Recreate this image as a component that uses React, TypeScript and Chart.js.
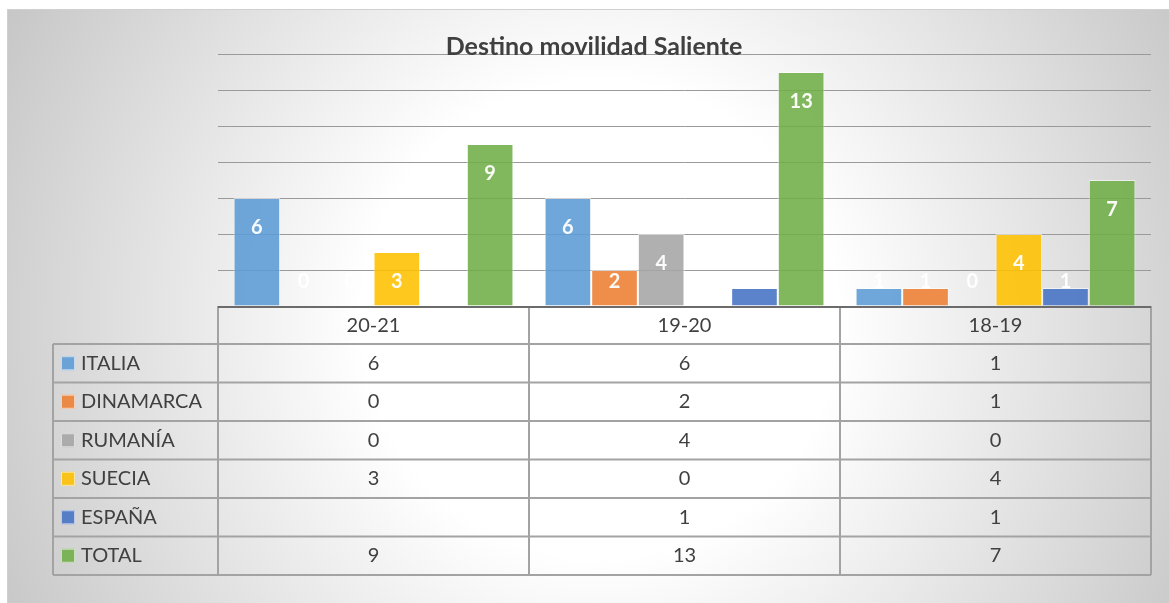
import React, { useEffect, useRef } from 'react';
import { Chart, registerables } from 'chart.js';

Chart.register(...registerables);

const titleText = 'Destino movilidad Saliente';
const categories = ['20-21', '19-20', '18-19'];
const seriesNames = ['ITALIA', 'DINAMARCA', 'RUMANÍA', 'SUECIA', 'ESPAÑA', 'TOTAL'];
const italia = [6, 6, 1];
const dinamarca = [0, 2, 1];
const rumania = [0, 4, 0];
const suecia = [3, 0, 4];
const espana: (number | null)[] = [null, 1, 1];
const total = [9, 13, 7];
const seriesValues = [italia, dinamarca, rumania, suecia, espana, total];
const seriesColors = ['#5B9BD5', '#ED7D31', '#A5A5A5', '#FFC000', '#4472C4', '#70AD47'];
const yMax = 14;
const yStep = 2;

const FONT = 'Lato, "Open Sans", sans-serif';

function hexToRgba(hex: string, a: number) {
  const n = parseInt(hex.slice(1), 16);
  return `rgba(${(n >> 16) & 255},${(n >> 8) & 255},${n & 255},${a})`;
}

const backgroundPlugin = {
  id: 'bgPlugin',
  beforeDraw(chart: any) {
    const ctx = chart.ctx;
    const W = chart.width;
    const H = chart.height;
    ctx.save();
    ctx.fillStyle = '#ffffff';
    ctx.fillRect(0, 0, W, H);
    const g = ctx.createRadialGradient(600, 320, 0, 600, 320, 720);
    g.addColorStop(0, '#ffffff');
    g.addColorStop(0.33, '#ffffff');
    g.addColorStop(1, '#c0c0c0');
    ctx.fillStyle = g;
    ctx.fillRect(7, 9, W - 7, H - 9);
    ctx.strokeStyle = '#d0d0d0';
    ctx.lineWidth = 1;
    ctx.beginPath();
    ctx.moveTo(7.5, H);
    ctx.lineTo(7.5, 9.5);
    ctx.lineTo(W, 9.5);
    ctx.stroke();
    ctx.restore();
  },
};

const labelsPlugin = {
  id: 'labelsPlugin',
  afterDatasetsDraw(chart: any) {
    const ctx = chart.ctx;
    ctx.save();
    ctx.font = `bold 20px ${FONT}`;
    ctx.fillStyle = 'rgba(255,255,255,0.95)';
    ctx.textAlign = 'center';
    ctx.textBaseline = 'middle';
    chart.data.datasets.forEach((ds: any, i: number) => {
      const meta = chart.getDatasetMeta(i);
      meta.data.forEach((el: any, j: number) => {
        const v = ds.data[j];
        if (v === null || v === undefined) return;
        const y = Math.min(el.y + 30, el.base - 24);
        ctx.fillText(String(v), el.x, y);
      });
    });
    ctx.restore();
  },
};

const titleTablePlugin = {
  id: 'titleTablePlugin',
  afterDraw(chart: any) {
    const ctx = chart.ctx;
    const area = chart.chartArea;
    const xs = chart.scales.x;
    ctx.save();
    ctx.font = `bold 25px ${FONT}`;
    ctx.fillStyle = '#404040';
    ctx.textAlign = 'center';
    ctx.textBaseline = 'middle';
    ctx.fillText(titleText, 594, 47);

    const n = categories.length;
    const catW = (area.right - area.left) / n;
    const colEdges = [53, area.left];
    for (let i = 0; i < n; i++) colEdges.push(area.left + catW * (i + 1));
    const headTop = area.bottom;
    const headBottom = 344;
    const rowH = 38.5;
    const rowTops: number[] = [];
    for (let r = 0; r <= seriesNames.length; r++) rowTops.push(headBottom + r * rowH);
    const bottom = rowTops[rowTops.length - 1];

    ctx.strokeStyle = '#a3a3a3';
    ctx.lineWidth = 2;
    ctx.beginPath();
    for (let c = 1; c < colEdges.length; c++) {
      ctx.moveTo(colEdges[c], headTop);
      ctx.lineTo(colEdges[c], bottom);
    }
    ctx.moveTo(colEdges[0], headBottom);
    ctx.lineTo(colEdges[0], bottom);
    rowTops.forEach((y) => {
      ctx.moveTo(colEdges[0], y);
      ctx.lineTo(colEdges[colEdges.length - 1], y);
    });
    ctx.stroke();

    ctx.strokeStyle = '#6b6b6b';
    ctx.lineWidth = 2;
    ctx.beginPath();
    ctx.moveTo(area.left, headTop + 1);
    ctx.lineTo(area.right, headTop + 1);
    ctx.stroke();

    ctx.font = `20px ${FONT}`;
    ctx.fillStyle = '#404040';
    ctx.textAlign = 'center';
    ctx.textBaseline = 'middle';
    categories.forEach((c, i) => {
      const cx = xs.getPixelForValue(i);
      ctx.fillText(c, cx, (headTop + headBottom) / 2 + 1);
    });
    seriesNames.forEach((name, r) => {
      const cy = rowTops[r] + rowH / 2;
      ctx.fillStyle = hexToRgba(seriesColors[r], 0.88);
      ctx.fillRect(61, cy - 7, 14, 14);
      ctx.strokeStyle = 'rgba(255,255,255,0.6)';
      ctx.lineWidth = 1;
      ctx.strokeRect(61.5, cy - 6.5, 13, 13);
      ctx.fillStyle = '#404040';
      ctx.textAlign = 'left';
      ctx.fillText(name, 81, cy);
      ctx.textAlign = 'center';
      seriesValues[r].forEach((v, i) => {
        if (v === null || v === undefined) return;
        ctx.fillText(String(v), xs.getPixelForValue(i), cy);
      });
    });
    ctx.restore();
  },
};

export default function App() {
  const canvasRef = useRef<HTMLCanvasElement | null>(null);

  useEffect(() => {
    const canvas = canvasRef.current;
    if (!canvas) return;
    const chart = new Chart(canvas, {
      type: 'bar',
      data: {
        labels: categories,
        datasets: seriesNames.map((name, i) => ({
          label: name,
          data: seriesValues[i],
          backgroundColor: hexToRgba(seriesColors[i], 0.88),
          borderColor: 'rgba(255,255,255,0.55)',
          borderWidth: 1,
          barPercentage: 1,
          categoryPercentage: 0.9,
        })),
      },
      options: {
        responsive: false,
        devicePixelRatio: 1,
        animation: false,
        layout: { padding: { left: 218, right: 18, top: 54, bottom: 297 } },
        plugins: {
          legend: { display: false },
          title: { display: false },
          tooltip: { enabled: false },
        },
        scales: {
          x: { display: false, grid: { display: false } },
          y: {
            min: 0,
            max: yMax,
            display: true,
            ticks: { display: false, stepSize: yStep },
            border: { display: false },
            grid: { color: '#9a9a9a', lineWidth: 1, drawTicks: false },
            afterFit: (s: any) => {
              s.width = 0;
            },
          },
        },
      },
      plugins: [backgroundPlugin, labelsPlugin, titleTablePlugin],
    });
    return () => chart.destroy();
  }, []);

  return (
    <div style={{ position: 'absolute', left: 0, top: 0, width: 1169, height: 603 }}>
      <canvas ref={canvasRef} width={1169} height={603} style={{ display: 'block' }} />
    </div>
  );
}
